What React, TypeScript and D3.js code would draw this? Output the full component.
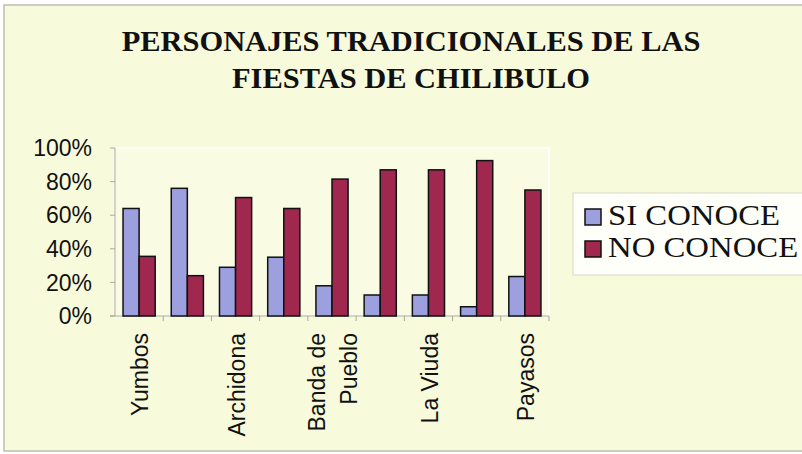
import React from "react";
import * as d3 from "d3";

const categories = ["Yumbos", "", "Archidona", "", "Banda de Pueblo", "", "La Viuda", "", "Payasos"];
const siConoce = [64, 76, 29, 35, 18, 12.5, 12.5, 5.5, 23.5];
const noConoce = [35.5, 24, 70.5, 64, 81.5, 87, 87, 92.5, 75];
const seriesNames = ["SI CONOCE", "NO CONOCE"];
const yTicks = [0, 20, 40, 60, 80, 100];
const titleLines = ["PERSONAJES TRADICIONALES DE LAS", "FIESTAS DE CHILIBULO"];

const W = 802;
const H = 454;
const plot = { left: 115, right: 549, top: 148, bottom: 316 };
const colors = ["#9DA0DE", "#A0284F"];

export default function App() {
  const x = d3
    .scaleBand<number>()
    .domain(categories.map((_, i) => i))
    .range([plot.left, plot.right])
    .paddingInner(0)
    .paddingOuter(0);
  const y = d3.scaleLinear().domain([0, 100]).range([plot.bottom, plot.top]);
  const bw = x.bandwidth();
  const barW = bw / 3;
  const series = [siConoce, noConoce];
  const sans = "'Liberation Sans', Arial, sans-serif";
  const serif = "'Liberation Serif', 'Times New Roman', serif";

  return (
    <svg
      width={W}
      height={H}
      style={{ position: "absolute", left: 0, top: 0, display: "block" }}
    >
      <rect x={0} y={0} width={W} height={H} fill="#ffffff" />
      <rect x={4} y={5} width={W + 10} height={446} fill="#F8FADC" stroke="#BDBDB0" strokeWidth={1.5} />
      {titleLines.map((t, i) => (
        <text
          key={i}
          transform={`translate(411,${51 + i * 36.5}) scale(1.05,1)`}
          textAnchor="middle"
          fontFamily={serif}
          fontWeight="bold"
          fontSize={29}
          fill="#111"
        >
          {t}
        </text>
      ))}
      <rect
        x={plot.left}
        y={plot.top}
        width={plot.right - plot.left}
        height={plot.bottom - plot.top}
        fill="#F9FBE2"
        stroke="#FFFFFF"
        strokeWidth={1.5}
      />
      {yTicks.map((t) => (
        <g key={t}>
          <line x1={plot.left - 5} x2={plot.left} y1={y(t)} y2={y(t)} stroke="#A8A89A" />
          <text
            x={92}
            y={y(t)}
            dy="0.36em"
            textAnchor="end"
            fontFamily={sans}
            fontSize={23}
            fill="#111"
          >
            {t}%
          </text>
        </g>
      ))}
      <line x1={plot.left} x2={plot.left} y1={plot.top} y2={plot.bottom} stroke="#A8A89A" />
      <line x1={plot.left - 5} x2={plot.right} y1={plot.bottom} y2={plot.bottom} stroke="#A8A89A" />
      {categories.map((_, i) => (
        <line
          key={i}
          x1={(x(i) as number) + bw}
          x2={(x(i) as number) + bw}
          y1={plot.bottom}
          y2={plot.bottom + 5}
          stroke="#A8A89A"
        />
      ))}
      {series.map((vals, s) =>
        vals.map((v, i) => (
          <rect
            key={`${s}-${i}`}
            x={(x(i) as number) + barW / 2 + s * barW}
            y={y(v)}
            width={barW}
            height={plot.bottom - y(v)}
            fill={colors[s]}
            stroke="#111"
            strokeWidth={1.5}
          />
        ))
      )}
      {categories.map((c, i) => {
        if (!c) return null;
        const words = c.split(" ");
        const lines = words.length > 2 ? [words.slice(0, 2).join(" "), words.slice(2).join(" ")] : [c];
        const cx = (x(i) as number) + bw / 2;
        return lines.map((ln, k) => {
          const lx = cx + (k - (lines.length - 1) / 2) * 32 + 1;
          return (
            <text
              key={`${i}-${k}`}
              transform={`translate(${lx},333) rotate(-90)`}
              textAnchor="end"
              dy="0.36em"
              fontFamily={sans}
              fontSize={23}
              fill="#111"
            >
              {ln}
            </text>
          );
        });
      })}
      <rect x={573} y={193} width={240} height={82} fill="#FEFFF8" stroke="#D8D8C8" strokeWidth={1} />
      {seriesNames.map((n, i) => (
        <g key={n}>
          <rect
            x={585}
            y={209 + i * 32}
            width={16}
            height={16}
            fill={colors[i]}
            stroke="#111"
            strokeWidth={1.5}
          />
          <text
            transform={`translate(608,${225 + i * 32}) scale(1.13,1)`}
            fontFamily={serif}
            fontSize={29}
            fill="#111"
          >
            {n}
          </text>
        </g>
      ))}
    </svg>
  );
}
